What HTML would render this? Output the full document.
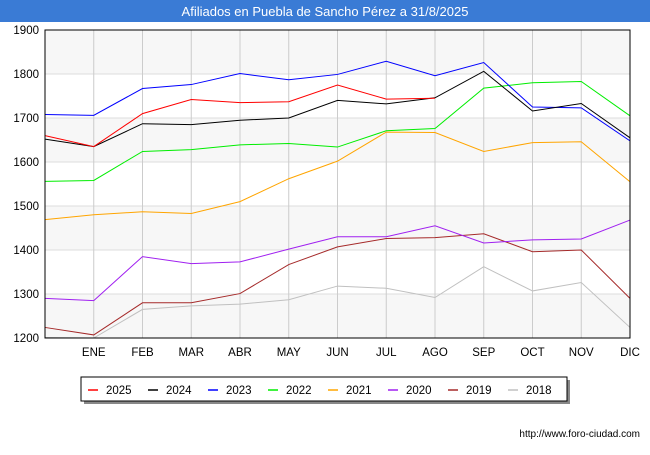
<!DOCTYPE html>
<html><head><meta charset="utf-8"><style>
body{margin:0;width:650px;height:450px;background:#fff;font-family:"Liberation Sans",sans-serif;overflow:hidden}
</style></head><body>
<svg width="650" height="450" xmlns="http://www.w3.org/2000/svg">
<rect x="0" y="0" width="650" height="22" fill="#3a7bd5"/>
<text x="325" y="16" text-anchor="middle" fill="#fff" font-size="13">Afiliados en Puebla de Sancho Pérez a 31/8/2025</text>
<g id="bands"></g><g id="grid"></g><g id="axes"></g><g id="lines"></g>
<rect x="45" y="30" width="585" height="308" fill="none" stroke="#000" stroke-width="1"/>
<rect x="84" y="380" width="486" height="24" fill="#888"/>
<rect x="81" y="377" width="486" height="24" fill="#fff" stroke="#000"/>
<g id="legend"></g>
<text x="640" y="437" text-anchor="end" font-size="10" fill="#000">http://www.foro-ciudad.com</text>
</svg>
<script>
const months=["","ENE","FEB","MAR","ABR","MAY","JUN","JUL","AGO","SEP","OCT","NOV","DIC"];
const yTicks=[1200,1300,1400,1500,1600,1700,1800,1900];
const seriesNames=["2025","2024","2023","2022","2021","2020","2019","2018"];
const seriesColors=["#ff0000","#000000","#0000ff","#00ee00","#ffa500","#a020f0","#a52a2a","#c0c0c0"];
const s2025=[1660,1635,1710,1742,1735,1737,1775,1743,1745];
const s2024=[1652,1635,1687,1685,1695,1700,1740,1732,1746,1806,1716,1733,1655];
const s2023=[1708,1706,1767,1776,1801,1787,1799,1829,1796,1826,1725,1723,1648];
const s2022=[1556,1558,1624,1628,1639,1642,1634,1671,1676,1768,1780,1783,1705];
const s2021=[1469,1480,1487,1483,1510,1562,1602,1668,1667,1624,1644,1646,1555];
const s2020=[1290,1285,1385,1369,1373,1402,1430,1430,1455,1416,1423,1425,1468];
const s2019=[1224,1207,1280,1280,1301,1367,1407,1426,1428,1437,1396,1400,1290];
const s2018=[1201,1200,1265,1273,1277,1287,1318,1313,1292,1362,1307,1326,1224];
const allSeries=[s2025,s2024,s2023,s2022,s2021,s2020,s2019,s2018];
const NS="http://www.w3.org/2000/svg";
const X=i=>45+i*(585/12);
const Y=v=>338-(v-1200)*308/700;
function mk(tag,attrs,parent){const e=document.createElementNS(NS,tag);for(const k in attrs)e.setAttribute(k,attrs[k]);document.getElementById(parent).appendChild(e);return e;}
for(let i=0;i<yTicks.length-1;i++){if(i%2==0){const r=mk('rect',{x:45,y:Y(yTicks[i+1]),width:585,height:Y(yTicks[i])-Y(yTicks[i+1]),fill:'#f7f7f7'},'bands');

}}
yTicks.forEach(t=>{const l=mk('line',{x1:45,x2:630,y1:Y(t),y2:Y(t),stroke:'#ddd'},'grid');


const tx=mk('text',{x:39,y:Y(t)+4,'text-anchor':'end','font-size':'11.5'},'axes');tx.textContent=t;

});
months.forEach((m,i)=>{if(i>0){const l=mk('line',{x1:X(i),x2:X(i),y1:30,y2:338,stroke:'#ccc'},'grid');


const tx=mk('text',{x:X(i),y:356,'text-anchor':'middle','font-size':'11.5'},'axes');tx.textContent=m;

}});
for(let s=allSeries.length-1;s>=0;s--){const pts=allSeries[s].map((v,i)=>X(i)+','+Y(v)).join(' ');
const p=mk('polyline',{points:pts,fill:'none',stroke:seriesColors[s],'stroke-width':1},'lines');

}
seriesNames.forEach((n,i)=>{const x0=88+i*60;
const l=mk('line',{x1:x0,x2:x0+10,y1:390,y2:390,stroke:seriesColors[i],'stroke-width':1.5},'legend');


const t=mk('text',{x:x0+18,y:394,'font-size':'11.5'},'legend');t.textContent=n;

});
</script>
</body></html>
